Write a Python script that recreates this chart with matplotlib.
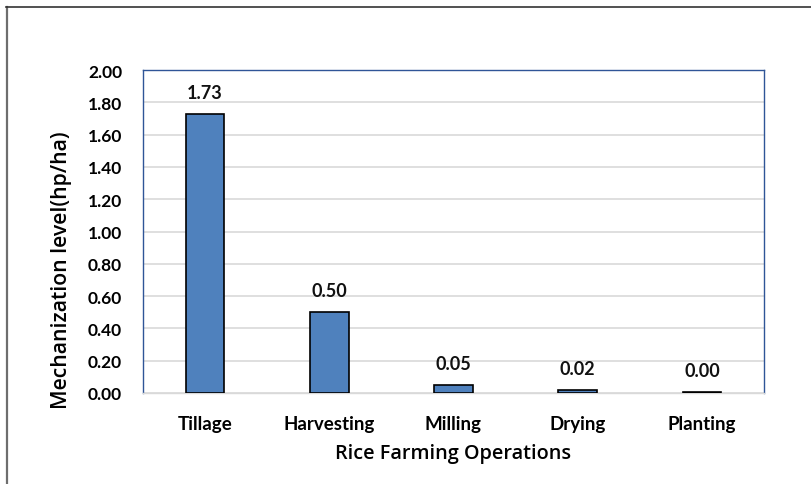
import matplotlib
matplotlib.use("Agg")
import matplotlib.pyplot as plt
from matplotlib.lines import Line2D

plt.rcParams['font.family'] = ['Lato', 'DejaVu Sans']

operations = ["Tillage", "Harvesting", "Milling", "Drying", "Planting"]
mech_level = [1.73, 0.50, 0.05, 0.02, 0.004]
yticks = [0.0, 0.2, 0.4, 0.6, 0.8, 1.0, 1.2, 1.4, 1.6, 1.8, 2.0]

fig = plt.figure(figsize=(8.12, 4.85), dpi=100)
ax = fig.add_axes([143/812, 91/485, 621/812, 323/485])

x = range(len(operations))
bars = ax.bar(x, mech_level, width=0.31, color="#4F81BD", edgecolor="black",
              linewidth=1.2, zorder=3)

for xi, v in zip(x, mech_level):
    ax.text(xi, v + 0.08, f"{v:.2f}", ha="center", va="bottom",
            fontsize=13, fontweight="bold", color="#111111")

ax.set_xlim(-0.5, len(operations) - 0.5)
ax.set_ylim(0, 2.0)
ax.set_yticks(yticks)
ax.set_yticklabels([f"{t:.2f}" for t in yticks], fontsize=12.5, fontweight="bold")
ax.set_xticks(list(x))
ax.set_xticklabels(operations, fontsize=13.5, fontweight="bold")
ax.tick_params(axis="both", length=0)
ax.tick_params(axis="y", pad=15)
ax.tick_params(axis="x", pad=15.5)

ax.grid(axis="y", color="#D9D9D9", linewidth=1.2, zorder=0)
for s in ax.spines.values():
    s.set_color("#2F5597")
    s.set_linewidth(1.0)
ax.spines["bottom"].set_color("#D9D9D9")

title_family = ["Open Sans", "Lato", "DejaVu Sans"]
ax.set_xlabel("Rice Farming Operations", labelpad=8, family=title_family,
              fontsize=14.3, fontweight="semibold")
ax.set_ylabel("Mechanization level(hp/ha)", family=title_family,
              fontsize=15.3, fontweight="semibold")
ax.yaxis.label.set_va("center")
ax.yaxis.set_label_coords(-0.131, 0.384)

# outer frame lines (left and top)
fig.add_artist(Line2D([6.5/812, 6.5/812], [0, 1 - 8/485], transform=fig.transFigure,
                      color="#6E6E6E", linewidth=1.6))
fig.add_artist(Line2D([6/812, 1], [1 - 8/485, 1 - 8/485], transform=fig.transFigure,
                      color="#333333", linewidth=1.2))

fig.savefig("out.png", dpi=100)
